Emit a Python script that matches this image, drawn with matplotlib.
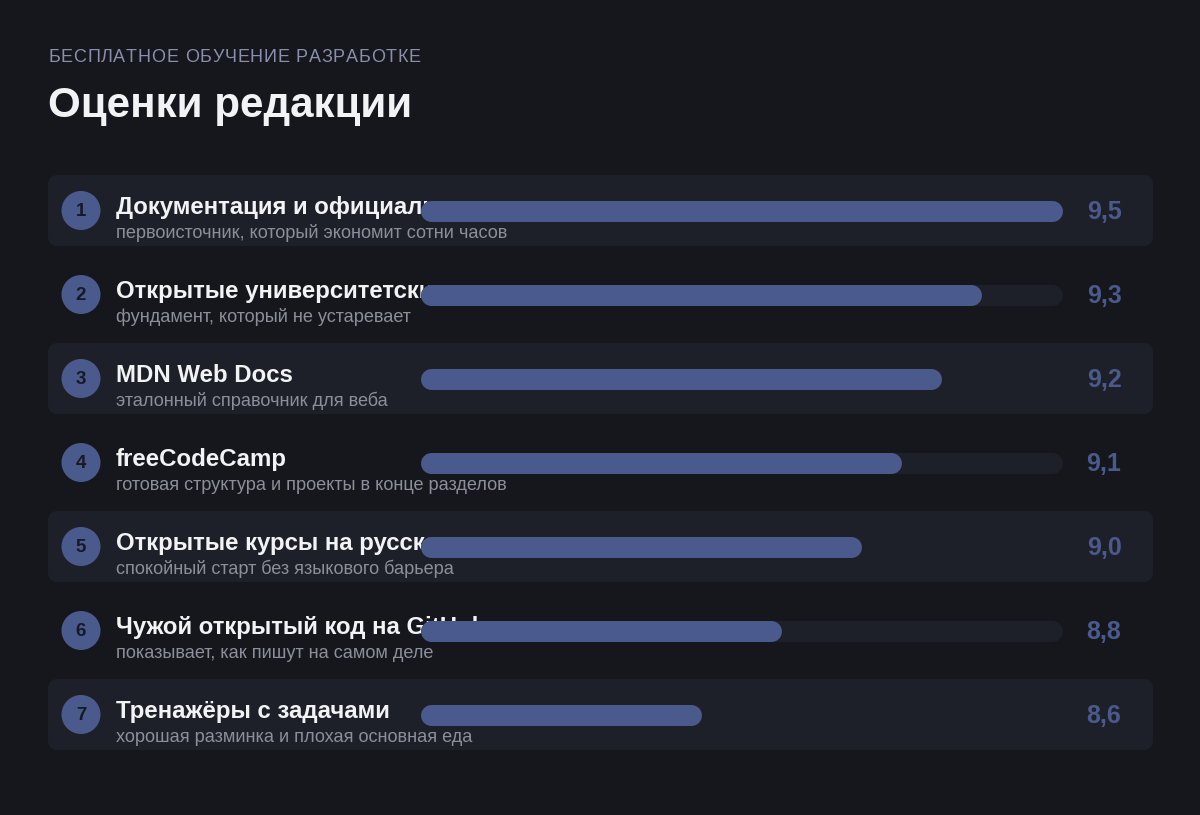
import matplotlib
matplotlib.use("Agg")
import matplotlib.pyplot as plt
from matplotlib.patches import FancyBboxPatch, Circle
from matplotlib.font_manager import FontProperties, findfont
from matplotlib.ft2font import FT2Font

# ---- data ----
kicker = "БЕСПЛАТНОЕ ОБУЧЕНИЕ РАЗРАБОТКЕ"
title = "Оценки редакции"
names = [
    "Документация и официальные туры",
    "Открытые университетские курсы",
    "MDN Web Docs",
    "freeCodeCamp",
    "Открытые курсы на русском",
    "Чужой открытый код на GitHub",
    "Тренажёры с задачами",
]
notes = [
    "первоисточник, который экономит сотни часов",
    "фундамент, который не устаревает",
    "эталонный справочник для веба",
    "готовая структура и проекты в конце разделов",
    "спокойный старт без языкового барьера",
    "показывает, как пишут на самом деле",
    "хорошая разминка и плохая основная еда",
]
scores = [9.5, 9.3, 9.2, 9.1, 9.0, 8.8, 8.6]
score_labels = ["9,5", "9,3", "9,2", "9,1", "9,0", "8,8", "8,6"]
ranks = ["1", "2", "3", "4", "5", "6", "7"]

# ---- style ----
BG = "#15171d"
CARD = "#1e2029"
BAR = "#4a5a8c"
WHITE = "#f2f3f5"
GREY = "#8c8f99"
KICK = "#8a8fab"
FONT = ["Liberation Sans", "DejaVu Sans"]
plt.rcParams["font.family"] = FONT

W, H = 1200, 815
fig = plt.figure(figsize=(W / 100, H / 100), dpi=100, facecolor=BG)
ax = fig.add_axes([0, 0, 1, 1])
ax.set_xlim(0, W)
ax.set_ylim(H, 0)
ax.axis("off")
ax.set_facecolor(BG)

# bar axes: data range mapped to the track (caps add radius at each end)
cap = 10.5
bx0, bx1 = 420 + cap, 1062 - cap
bax = fig.add_axes([bx0 / W, 0, (bx1 - bx0) / W, 1])
bax.set_xlim(7.95, 9.5)
bax.set_ylim(H, 0)
bax.axis("off")
bax.patch.set_visible(False)
bax.set_zorder(3)


def spaced_text(x, y, s, size, spacing, **kw):
    """Draw text with letter spacing (pixels) using glyph advances."""
    font = FT2Font(findfont(FontProperties(family="Liberation Sans")))
    font.set_size(size, 100)
    for ch in s:
        ax.text(x, y, ch, fontsize=size, ha="left", va="baseline", **kw)
        g = font.load_char(ord(ch))
        x += g.linearHoriAdvance / 65536 + spacing


spaced_text(48, 62, kicker, 13.0, 0.75, color=KICK)
ax.text(48, 117, title, color=WHITE, fontsize=30.3, fontweight="bold",
        va="baseline", ha="left")

y0, step = 210.5, 84
lw_pt = 2 * cap * 72 / 100
for i, (nm, nt, sc, sl, rk) in enumerate(zip(names, notes, scores, score_labels, ranks)):
    yc = y0 + i * step
    if i % 2 == 0:
        ax.add_patch(FancyBboxPatch((48, yc - 35.5), 1105, 71,
                                    boxstyle="round,pad=0,rounding_size=10",
                                    fc=CARD, ec="none", zorder=1))
    ax.add_patch(Circle((81, yc), 19.5, fc=BAR, ec="none", zorder=2))
    ax.text(81, yc + 1, rk, color="#161a26", fontsize=13.5, fontweight="bold",
            ha="center", va="center", zorder=3)
    ax.text(116, yc + 3.5, nm, color=WHITE, fontsize=17.3, fontweight="bold",
            ha="left", va="baseline", zorder=2)
    ax.text(116, yc + 28, nt, color=GREY, fontsize=13.1,
            ha="left", va="baseline", zorder=2)
    ax.text(1104, yc + 8.5, sl, color=BAR, fontsize=18, fontweight="bold",
            ha="center", va="baseline", zorder=2)
    # track
    bax.plot([7.95, 9.5], [yc, yc], color=CARD, lw=lw_pt,
             solid_capstyle="round", clip_on=False, zorder=1)
    # bar
    bax.plot([7.95, sc], [yc, yc], color=BAR, lw=lw_pt,
             solid_capstyle="round", clip_on=False, zorder=2)

fig.savefig("out.png", dpi=100, facecolor=BG)
